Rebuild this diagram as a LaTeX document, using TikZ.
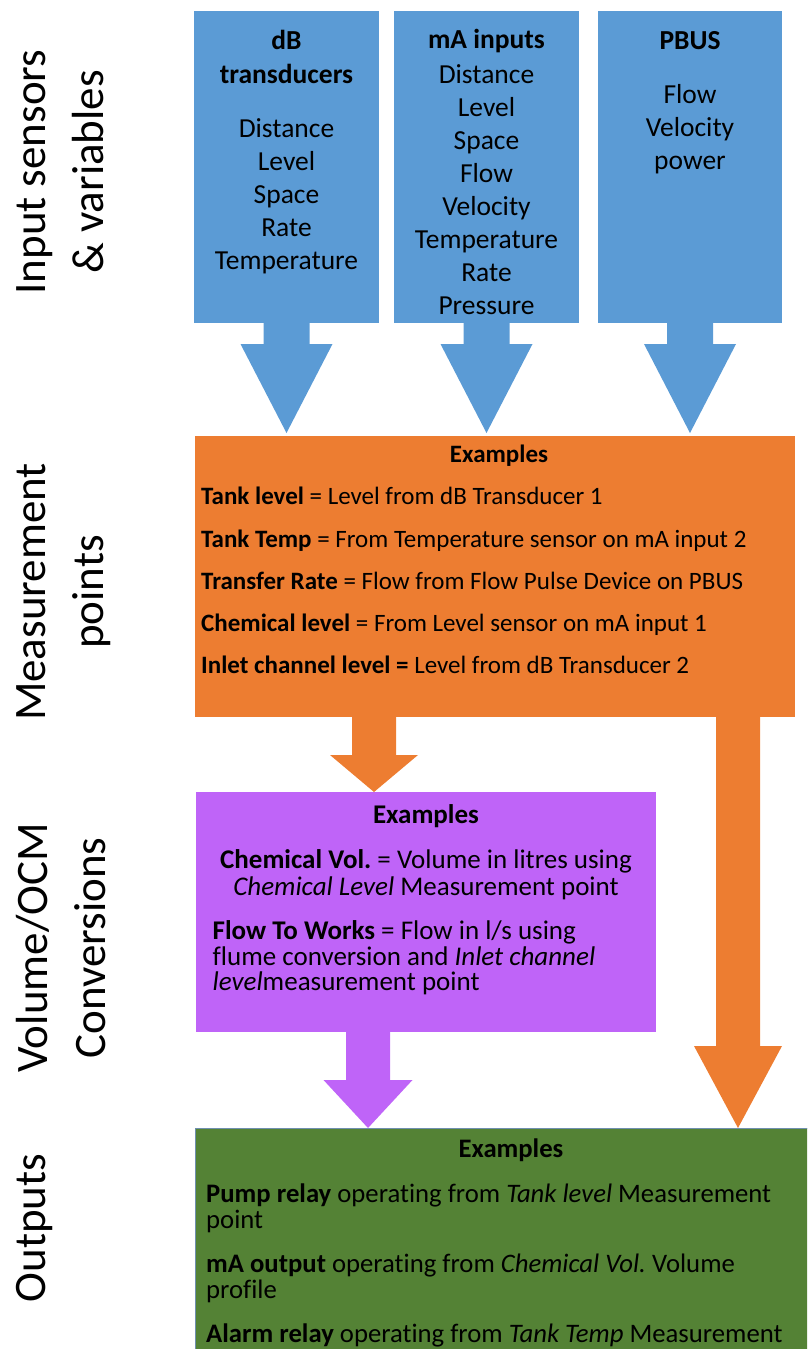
\documentclass[tikz,border=0pt]{standalone}
\usepackage{fontspec}
\setmainfont{Carlito}[Ligatures={TeX,NoCommon}]
\usetikzlibrary{calc}
\definecolor{cblue}{HTML}{5B9BD5}
\definecolor{corange}{HTML}{ED7D31}
\definecolor{cpurple}{HTML}{BF64F8}
\definecolor{cgreen}{HTML}{548235}
\definecolor{cgreenline}{HTML}{6F8FAF}
\frenchspacing
% #1 colour, #2 shaft top centre, #3 tip, #4 shaft half width, #5 head half width, #6 head height
\newcommand{\blockarrow}[6]{%
  \fill[#1] ($(#2)+(-#4,0)$) -- ($(#2)+(#4,0)$) -- ($(#3)+(#4,-#6)$) -- ($(#3)+(#5,-#6)$)
    -- (#3) -- ($(#3)+(-#5,-#6)$) -- ($(#3)+(-#4,-#6)$) -- cycle;}
\begin{document}
\begin{tikzpicture}[x=1pt,y=-1pt,
  box/.style={inner sep=0pt, outer sep=0pt, anchor=north west},
  bt/.style={inner sep=0pt, anchor=base, font=\fontsize{27.5}{33}\selectfont},
  ot/.style={inner sep=0pt, anchor=base west, font=\fontsize{25}{30}\selectfont},
  otc/.style={ot, anchor=base},
  pt/.style={inner sep=0pt, anchor=base west, font=\fontsize{27}{30}\selectfont},
  ptc/.style={pt, anchor=base},
  gt/.style={inner sep=0pt, anchor=base west, font=\fontsize{26.7}{30}\selectfont},
  gtc/.style={gt, anchor=base},
  lbl/.style={inner sep=0pt, rotate=90, anchor=north, align=center, font=\fontsize{45}{58}\selectfont}]
\useasboundingbox (0,0) rectangle (807,1349);
\clip (0,0) rectangle (807,1349);

% boxes
\node[box, fill=cblue, minimum width=185pt, minimum height=312pt] (b1) at (194,11) {};
\node[box, fill=cblue, minimum width=185pt, minimum height=312pt] (b2) at (394,11) {};
\node[box, fill=cblue, minimum width=184pt, minimum height=312pt] (b3) at (598,11) {};
\node[box, fill=corange, minimum width=600pt, minimum height=281pt] (mp) at (195,436) {};
\node[box, fill=cpurple, minimum width=460pt, minimum height=240pt] (vc) at (196,792) {};
\node[box, fill=cgreen, draw=cgreenline, line width=1pt, minimum width=640pt, minimum height=260pt] (out) at (195,1128) {};

% block arrows
\coordinate (a1s) at ($(b1.south)+(0,-1)$);
\coordinate (a1t) at ($(b1.south |- mp.north)+(0,-3)$);
\coordinate (a2s) at ($(b2.south)+(0,-1)$);
\coordinate (a2t) at ($(b2.south |- mp.north)+(0,-3)$);
\coordinate (a3s) at ($(b3.south)+(0,-1)$);
\coordinate (a3t) at ($(b3.south |- mp.north)+(0,-3)$);
\blockarrow{cblue}{a1s}{a1t}{23}{46}{89}
\blockarrow{cblue}{a2s}{a2t}{23}{46}{89}
\blockarrow{cblue}{a3s}{a3t}{23}{46}{89}

\coordinate (o1s) at ($(mp.south west)+(179,-1)$);
\coordinate (o1t) at (o1s |- vc.north);
\blockarrow{corange}{o1s}{o1t}{22}{44}{37}
\coordinate (o2s) at ($(mp.south west)+(543,-1)$);
\coordinate (o2t) at (o2s |- out.north);
\blockarrow{corange}{o2s}{o2t}{22}{44}{82}
\coordinate (p1s) at ($(vc.south west)+(172,-1)$);
\coordinate (p1t) at (p1s |- out.north);
\blockarrow{cpurple}{p1s}{p1t}{22}{44.5}{48}

% blue box texts
\foreach \t/\y [count=\i] in {{\textbf{dB}}/49, {\textbf{transducers}}/83, Distance/137, Level/170, Space/203, Rate/236, Temperature/269}
  \node[bt] (b1l\i) at (286.5,\y) {\t};
\foreach \t/\y [count=\i] in {{\textbf{mA inputs}}/48, Distance/83, Level/116, Space/149, Flow/182, Velocity/215, Temperature/248, Rate/281, Pressure/314}
  \node[bt] (b2l\i) at (486.5,\y) {\t};
\foreach \t/\y [count=\i] in {{\textbf{PBUS}}/49, Flow/103, Velocity/136, power/169}
  \node[bt] (b3l\i) at (690,\y) {\t};

% measurement points texts
\node[otc] (mpx) at (499,462) {\textbf{Examples}};
\node[ot] (mp1) at (201,504) {\textbf{Tank level} = Level from dB Transducer 1};
\node[ot] (mp2) at (201,547) {\textbf{Tank Temp} = From Temperature sensor on mA input 2};
\node[ot] (mp3) at (201,589) {\textbf{Transfer Rate} = Flow from Flow Pulse Device on PBUS};
\node[ot] (mp4) at (201,631) {\textbf{Chemical level} = From Level sensor on mA input 1};
\node[ot] (mp5) at (201,673) {\textbf{Inlet channel level =} Level from dB Transducer 2};

% volume conversion texts
\node[ptc] (vcx) at (426,823) {\textbf{Examples}};
\node[ptc] (vc1) at (426,868) {\textbf{Chemical Vol.} = Volume in litres using};
\node[ptc] (vc2) at (426,895) {\textit{Chemical Level} Measurement point};
\node[pt] (vc3) at (212.5,939) {\textbf{Flow To Works} = Flow in l/s using};
\node[pt] (vc4) at (212.5,965) {flume conversion and \textit{Inlet channel}};
\node[pt] (vc5) at (212.5,990) {\textit{level}measurement point};

% outputs texts
\node[gtc] (outx) at (511,1157) {\textbf{Examples}};
\node[gt] (out1) at (206,1202) {\textbf{Pump relay} operating from \textit{Tank level} Measurement};
\node[gt] (out2) at (206,1228) {point};
\node[gt] (out3) at (206,1272) {\textbf{mA output} operating from \textit{Chemical Vol.} Volume};
\node[gt] (out4) at (206,1298) {profile};
\node[gt] (out5) at (206,1342) {\textbf{Alarm relay} operating from \textit{Tank Temp} Measurement};

% left labels
\node[lbl] (l1) at (16,172) {Input sensors\\\& variables};
\node[lbl] (l2) at (16,592) {Measurement\\points};
\node[lbl] (l3) at (16,948) {Volume/OCM\\Conversions};
\node[lbl] (l4) at (16,1228) {Outputs};
\end{tikzpicture}
\end{document}
